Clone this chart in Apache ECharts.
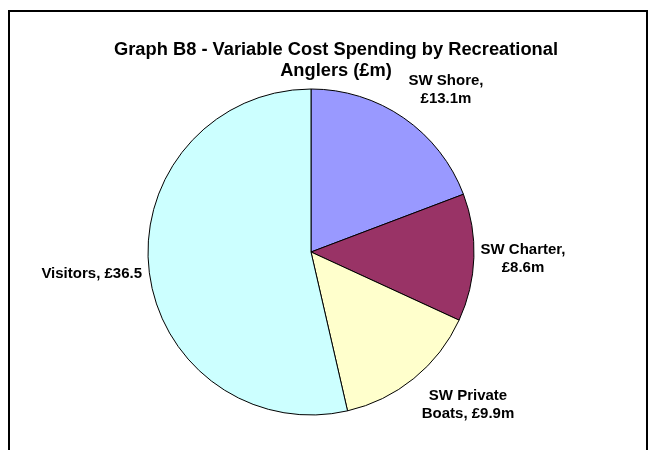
<!DOCTYPE html>
<html>
<head>
<meta charset="utf-8">
<script src="https://cdn.jsdelivr.net/npm/echarts@6/dist/echarts.min.js"></script>
<style>
  html, body { margin: 0; padding: 0; background: #ffffff; }
  #chart { width: 655px; height: 450px; }
</style>
</head>
<body>
<div id="chart"></div>
<script>
// Spending categories and values (£m)
const categories = ['SW Shore', 'SW Charter', 'SW Private Boats', 'Visitors'];
const values = [13.1, 8.6, 9.9, 36.5];
const labelTexts = ['SW Shore,\n£13.1m', 'SW Charter,\n£8.6m', 'SW Private\nBoats, £9.9m', 'Visitors, £36.5'];

// Slice fills
const sliceColors = ['#9999FF', '#993366', '#FFFFCC', '#CCFFFF'];

// Pie geometry and label placement (offsets from the pie centre)
const CX = 311, CY = 252, R = 163;
const labelOffsets = [[135, -162], [212, 7], [157, 153], [-169, 22]];
const labelAligns = ['center', 'center', 'center', 'right'];

const FONT = 'Liberation Sans, Arial, sans-serif';

const chart = echarts.init(document.getElementById('chart'), null, { renderer: 'canvas' });

chart.setOption({
  backgroundColor: '#ffffff',
  animation: false,
  title: {
    text: 'Graph B8 - Variable Cost Spending by Recreational\nAnglers (£m)',
    left: 331,
    top: 34,
    textAlign: 'center',
    textStyle: {
      fontFamily: FONT,
      fontSize: 18.3,
      fontWeight: 'bold',
      color: '#000000',
      lineHeight: 21
    }
  },
  graphic: [{
    type: 'rect',
    shape: { x: 9, y: 11, width: 638, height: 470 },
    style: { fill: 'none', stroke: '#000000', lineWidth: 2 },
    silent: true
  }],
  series: [{
    type: 'pie',
    center: [CX, CY],
    radius: R,
    startAngle: 90,
    clockwise: true,
    avoidLabelOverlap: false,
    data: categories.map((c, i) => ({
      name: c,
      value: values[i],
      itemStyle: { color: sliceColors[i] },
      label: { formatter: labelTexts[i] }
    })),
    itemStyle: { borderColor: '#000000', borderWidth: 1 },
    label: {
      show: true,
      position: 'outside',
      fontFamily: FONT,
      fontSize: 15,
      fontWeight: 'bold',
      color: '#000000',
      lineHeight: 18,
      align: 'center'
    },
    labelLine: { show: false },
    labelLayout: function (params) {
      const i = params.dataIndex;
      return {
        x: CX + labelOffsets[i][0],
        y: CY + labelOffsets[i][1],
        align: labelAligns[i],
        verticalAlign: 'middle'
      };
    },
    emphasis: { disabled: true }
  }]
});
</script>
</body>
</html>
